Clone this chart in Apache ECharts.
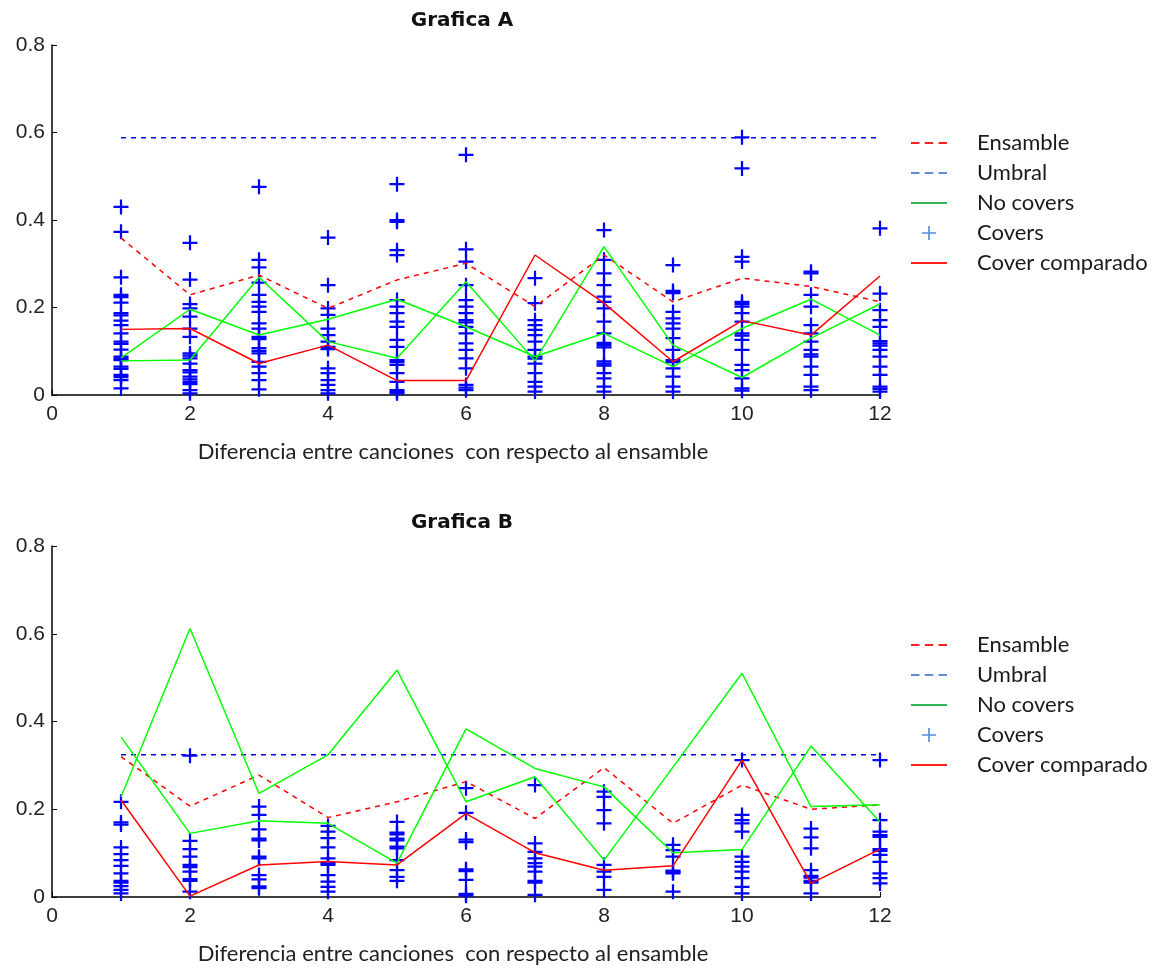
<!DOCTYPE html>
<html>
<head>
<meta charset="utf-8">
<script src="https://cdn.jsdelivr.net/npm/echarts@6/dist/echarts.min.js"></script>
<style>
  html, body { margin: 0; padding: 0; background: #fff; }
  #chart { width: 1157px; height: 968px; }
</style>
</head>
<body>
<div id="chart"></div>
<script>
// eje x: diferencia 1..12
const xs = [1, 2, 3, 4, 5, 6, 7, 8, 9, 10, 11, 12];
const xTicks = [0, 2, 4, 6, 8, 10, 12];
const yTicks = [0, 0.2, 0.4, 0.6, 0.8];

// Grafica A
const ensambleA = [0.359, 0.229, 0.274, 0.198, 0.263, 0.301, 0.202, 0.320, 0.213, 0.267, 0.248, 0.213];
const umbralA = 0.588;
const noCovers1A = [0.085, 0.196, 0.137, 0.173, 0.219, 0.156, 0.088, 0.141, 0.065, 0.152, 0.219, 0.137];
const noCovers2A = [0.078, 0.080, 0.269, 0.122, 0.084, 0.259, 0.078, 0.339, 0.114, 0.040, 0.130, 0.208];
const comparadoA = [0.150, 0.152, 0.072, 0.114, 0.033, 0.033, 0.320, 0.210, 0.076, 0.170, 0.137, 0.272];
const coversA = [
  [0.430, 0.373, 0.269, 0.229, 0.224, 0.211, 0.187, 0.182, 0.170, 0.160, 0.141, 0.122, 0.117, 0.104, 0.088, 0.084, 0.080, 0.065, 0.060, 0.046, 0.041, 0.034, 0.015],
  [0.348, 0.264, 0.208, 0.198, 0.179, 0.152, 0.133, 0.095, 0.090, 0.084, 0.072, 0.057, 0.052, 0.042, 0.036, 0.030, 0.025, 0.011, 0.004],
  [0.476, 0.309, 0.292, 0.257, 0.229, 0.213, 0.202, 0.190, 0.164, 0.152, 0.133, 0.128, 0.107, 0.101, 0.095, 0.076, 0.065, 0.050, 0.034, 0.013],
  [0.360, 0.251, 0.198, 0.183, 0.152, 0.137, 0.122, 0.110, 0.105, 0.061, 0.050, 0.034, 0.023, 0.011, 0.004],
  [0.482, 0.400, 0.396, 0.331, 0.320, 0.217, 0.202, 0.187, 0.168, 0.156, 0.126, 0.110, 0.080, 0.075, 0.069, 0.050, 0.030, 0.011, 0.007, 0.004],
  [0.549, 0.333, 0.305, 0.251, 0.217, 0.202, 0.187, 0.171, 0.166, 0.156, 0.141, 0.118, 0.103, 0.084, 0.061, 0.023, 0.017, 0.011],
  [0.267, 0.210, 0.171, 0.160, 0.149, 0.137, 0.122, 0.103, 0.088, 0.083, 0.072, 0.050, 0.030, 0.019, 0.008],
  [0.377, 0.309, 0.278, 0.251, 0.225, 0.213, 0.198, 0.168, 0.141, 0.119, 0.114, 0.109, 0.077, 0.072, 0.067, 0.050, 0.038, 0.019, 0.008],
  [0.297, 0.238, 0.233, 0.190, 0.175, 0.164, 0.152, 0.130, 0.103, 0.080, 0.075, 0.061, 0.042, 0.019, 0.008],
  [0.589, 0.518, 0.316, 0.305, 0.213, 0.208, 0.202, 0.187, 0.168, 0.141, 0.136, 0.126, 0.103, 0.069, 0.057, 0.038, 0.015, 0.010],
  [0.282, 0.278, 0.229, 0.202, 0.160, 0.141, 0.122, 0.103, 0.093, 0.088, 0.065, 0.046, 0.019, 0.011],
  [0.381, 0.232, 0.194, 0.171, 0.156, 0.123, 0.118, 0.113, 0.103, 0.088, 0.065, 0.046, 0.019, 0.014, 0.008]
];

// Grafica B
const ensambleB = [0.320, 0.207, 0.278, 0.181, 0.217, 0.263, 0.179, 0.295, 0.168, 0.255, 0.200, 0.210];
const umbralB = 0.324;
const noCovers1B = [0.228, 0.612, 0.236, 0.324, 0.517, 0.217, 0.274, 0.084, 0.296, 0.510, 0.206, 0.210];
const noCovers2B = [0.365, 0.145, 0.174, 0.168, 0.077, 0.383, 0.293, 0.251, 0.101, 0.108, 0.344, 0.171];
const comparadoB = [0.221, 0.002, 0.073, 0.081, 0.073, 0.190, 0.101, 0.061, 0.071, 0.312, 0.031, 0.109];
const coversB = [
  [0.217, 0.170, 0.165, 0.113, 0.098, 0.084, 0.071, 0.054, 0.037, 0.033, 0.025, 0.016, 0.008],
  [0.322, 0.128, 0.109, 0.092, 0.073, 0.068, 0.058, 0.041, 0.037, 0.012],
  [0.206, 0.187, 0.154, 0.133, 0.129, 0.092, 0.088, 0.050, 0.040, 0.024, 0.020],
  [0.162, 0.149, 0.134, 0.113, 0.088, 0.077, 0.073, 0.050, 0.035, 0.023, 0.012],
  [0.171, 0.147, 0.143, 0.133, 0.129, 0.115, 0.111, 0.084, 0.061, 0.046, 0.037],
  [0.248, 0.192, 0.131, 0.125, 0.063, 0.059, 0.039, 0.007, 0.003],
  [0.255, 0.122, 0.103, 0.088, 0.077, 0.069, 0.058, 0.037, 0.033, 0.005],
  [0.240, 0.228, 0.198, 0.168, 0.073, 0.058, 0.046, 0.016],
  [0.119, 0.107, 0.092, 0.060, 0.057, 0.054, 0.012],
  [0.312, 0.187, 0.175, 0.168, 0.149, 0.092, 0.080, 0.069, 0.058, 0.043, 0.023, 0.008],
  [0.156, 0.136, 0.111, 0.061, 0.048, 0.044, 0.037, 0.033, 0.008],
  [0.312, 0.175, 0.149, 0.141, 0.137, 0.109, 0.105, 0.096, 0.080, 0.054, 0.043, 0.031]
];

// cruz rellena para los covers
const plusPath = 'path://M0,8.5h20v3h-20z M8.5,0h3v20h-3z';

const chartDom = document.getElementById('chart');
const myChart = echarts.init(chartDom);

const tickFont = 'Liberation Sans Narrow, Liberation Sans, sans-serif';
const textFont = 'Lato, Noto Sans, sans-serif';

const makeXAxis = (gridIndex) => ({
  type: 'value',
  gridIndex,
  min: 0,
  max: 12,
  interval: 2,
  name: 'Diferencia entre canciones  con respecto al ensamble',
  nameLocation: 'middle',
  nameGap: 46,
  nameTextStyle: { fontFamily: textFont, fontSize: 22, color: '#222', padding: [0, 26, 0, 0] },
  axisLine: { show: true, onZero: false, lineStyle: { color: '#000', width: 1.5 } },
  axisTick: { show: true, inside: true, length: 5, lineStyle: { color: '#000' } },
  axisLabel: { fontFamily: tickFont, fontSize: 21, color: '#222', margin: 9 },
  splitLine: { show: false }
});

const makeYAxis = (gridIndex) => ({
  type: 'value',
  gridIndex,
  min: 0,
  max: 0.8,
  interval: 0.2,
  axisLine: { show: true, onZero: false, lineStyle: { color: '#000', width: 1.5 } },
  axisTick: { show: true, inside: true, length: 5, lineStyle: { color: '#000' } },
  axisLabel: {
    fontFamily: tickFont, fontSize: 21, color: '#222', margin: 7,
    formatter: (v) => yTicks.includes(Math.round(v * 10) / 10) ? String(Math.round(v * 10) / 10) : ''
  },
  splitLine: { show: false }
});

const lineSeries = (name, idx, values, color, dashed) => ({
  name,
  type: 'line',
  xAxisIndex: idx,
  yAxisIndex: idx,
  data: xs.map((x, i) => [x, values[i]]),
  symbol: 'none',
  z: 3,
  lineStyle: { color, width: 1.5, type: dashed ? [5, 5] : 'solid' },
  itemStyle: { color },
  animation: false
});

const coverSeries = (idx, cols) => {
  const pts = [];
  cols.forEach((col, i) => col.forEach(v => pts.push([xs[i], v])));
  return {
    name: 'Covers',
    type: 'scatter',
    xAxisIndex: idx,
    yAxisIndex: idx,
    data: pts,
    symbol: plusPath,
    symbolSize: 15,
    itemStyle: { color: '#0000ff', opacity: 1 },
    clip: false,
    z: 2,
    animation: false
  };
};

const buildSeries = (idx, ens, umb, g1, g2, covers, comp) => [
  coverSeries(idx, covers),
  lineSeries('Ensamble', idx, ens, '#ff0000', true),
  lineSeries('Umbral', idx, xs.map(() => umb), '#0000ff', true),
  lineSeries('No covers', idx, g1, '#00ff00', false),
  lineSeries('No covers', idx, g2, '#00ff00', false),
  lineSeries('Cover comparado', idx, comp, '#ff0000', false)
];

const makeLegend = (top) => ({
  orient: 'vertical',
  left: 906,
  top,
  itemWidth: 36,
  itemHeight: 14,
  itemGap: 8,
  selectedMode: false,
  textStyle: { fontFamily: textFont, fontSize: 22, color: '#1a1a1a', padding: [0, 0, 0, 25] },
  data: [
    { name: 'Ensamble', icon: 'path://M0,0h8v2h-8z M13,0h8v2h-8z M26,0h8v2h-8z', itemStyle: { color: '#ff2020' } },
    { name: 'Umbral', icon: 'path://M0,0h8v2h-8z M13,0h8v2h-8z M26,0h8v2h-8z', itemStyle: { color: '#5b8fd6' } },
    { name: 'No covers', icon: 'path://M0,0h36v2h-36z', itemStyle: { color: '#2fb55a' } },
    { name: 'Covers', icon: 'path://M0,6.6h15v1.8h-15z M6.6,0h1.8v15h-1.8z', itemStyle: { color: '#5b8fd6' } },
    { name: 'Cover comparado', icon: 'path://M0,0h36v2h-36z', itemStyle: { color: '#ff2020' } }
  ]
});

const option = {
  backgroundColor: '#fff',
  animation: false,
  title: [
    { text: 'Grafica A', left: 457, top: 6, textAlign: 'center',
      textStyle: { fontFamily: 'DejaVu Sans, sans-serif', fontSize: 20, fontWeight: 'bold', color: '#111' } },
    { text: 'Grafica B', left: 457, top: 508, textAlign: 'center',
      textStyle: { fontFamily: 'DejaVu Sans, sans-serif', fontSize: 20, fontWeight: 'bold', color: '#111' } }
  ],
  legend: [makeLegend(127), makeLegend(629)],
  grid: [
    { left: 52, right: 277, top: 45, height: 350 },
    { left: 52, right: 277, top: 546, height: 351 }
  ],
  xAxis: [makeXAxis(0), makeXAxis(1)],
  yAxis: [makeYAxis(0), makeYAxis(1)],
  series: [
    ...buildSeries(0, ensambleA, umbralA, noCovers1A, noCovers2A, coversA, comparadoA),
    ...buildSeries(1, ensambleB, umbralB, noCovers1B, noCovers2B, coversB, comparadoB)
  ]
};

myChart.setOption(option);
window.addEventListener('resize', () => myChart.resize());
</script>
</body>
</html>
